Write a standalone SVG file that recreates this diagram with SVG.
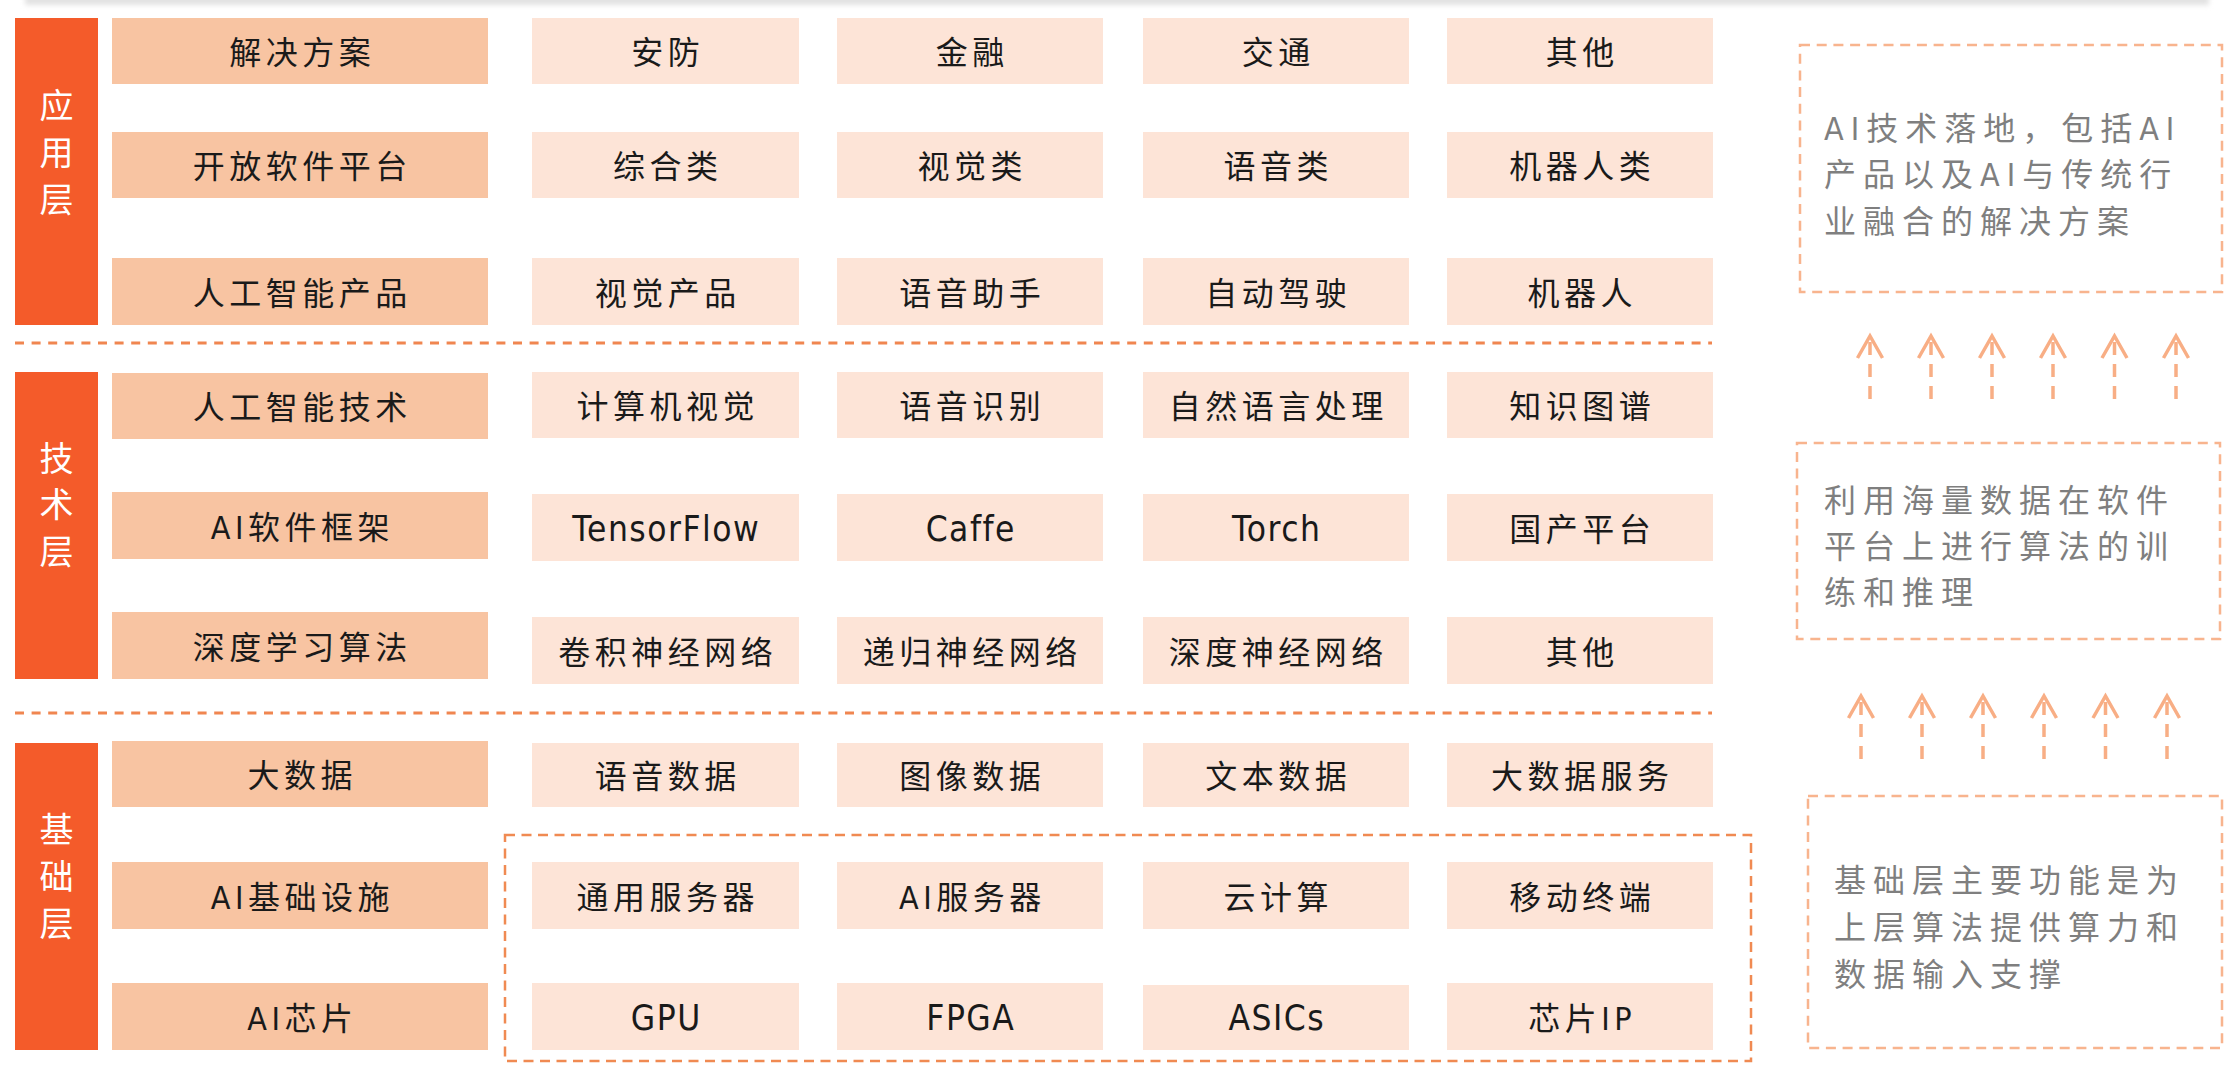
<svg xmlns="http://www.w3.org/2000/svg" width="2240" height="1076" viewBox="0 0 2240 1076">
  <defs>
    <filter id="soft" x="-5%" y="-200%" width="110%" height="500%">
      <feGaussianBlur stdDeviation="2.5"/>
    </filter>
    <style>
      .bar { fill: #F45B2A; }
      .hd { fill: #F8C4A2; }
      .cell { fill: #FDE4D7; }
      .sep { stroke: #F08650; stroke-width: 3; stroke-dasharray: 9 7.6; fill: none; }
      .grp { stroke: #F08A52; stroke-width: 2.5; stroke-dasharray: 10 6.5; fill: none; }
      .note { stroke: #F8B48E; stroke-width: 2.5; stroke-dasharray: 10 6.7; fill: none; }
      .arrow { stroke: #F8AE85; stroke-width: 3.5; fill: none; stroke-linecap: butt; }
      .shaft { stroke: #F8AE85; stroke-width: 3.5; fill: none; stroke-dasharray: 13 9; }
      .lay { font-family: "Noto Sans CJK SC", sans-serif; font-size: 34px; fill: #FFFFFF; text-anchor: middle; }
      .t { font-family: "DejaVu Sans Condensed", "Noto Sans CJK SC", sans-serif; font-size: 32px; fill: #1A1A1A; text-anchor: middle; letter-spacing: 4.5px; }
      .en { font-family: "DejaVu Sans Condensed", "Noto Sans CJK SC", sans-serif; font-size: 35px; fill: #1A1A1A; text-anchor: middle; letter-spacing: 1.5px; }
      .d { font-family: "DejaVu Sans Condensed", "Noto Sans CJK SC", sans-serif; font-size: 32px; fill: #7F7F7F; letter-spacing: 7px; }
    </style>
  </defs>
  <rect width="2240" height="1076" fill="#FFFFFF"/>
  <rect x="25" y="-6" width="2184" height="11" fill="#E2E2E2" filter="url(#soft)"/>

  <!-- separators -->
  <line class="sep" x1="15" y1="343" x2="1712" y2="343"/>
  <line class="sep" x1="15" y1="713" x2="1712" y2="713"/>

  <!-- layer bars -->
  <g id="layer-app">
    <rect class="bar" x="15" y="18" width="83" height="307"/>
    <text class="lay" x="56.5" y="118">应</text>
    <text class="lay" x="56.5" y="165">用</text>
    <text class="lay" x="56.5" y="212">层</text>
  </g>
  <g id="layer-tech">
    <rect class="bar" x="15" y="372" width="83" height="307"/>
    <text class="lay" x="56.5" y="471">技</text>
    <text class="lay" x="56.5" y="517">术</text>
    <text class="lay" x="56.5" y="564">层</text>
  </g>
  <g id="layer-base">
    <rect class="bar" x="15" y="743" width="83" height="307"/>
    <text class="lay" x="56.5" y="842">基</text>
    <text class="lay" x="56.5" y="889">础</text>
    <text class="lay" x="56.5" y="936">层</text>
  </g>

  <!-- application layer -->
  <g id="n-solution"><rect class="hd" x="112" y="18" width="376" height="66"/><text class="t" x="302.3" y="64">解决方案</text></g>
  <g id="n-anfang"><rect class="cell" x="532" y="18" width="267" height="66"/><text class="t" x="667.8" y="64">安防</text></g>
  <g id="n-jinrong"><rect class="cell" x="837" y="18" width="266" height="66"/><text class="t" x="972.3" y="64">金融</text></g>
  <g id="n-jiaotong"><rect class="cell" x="1143" y="18" width="266" height="66"/><text class="t" x="1278.3" y="64">交通</text></g>
  <g id="n-qita1"><rect class="cell" x="1447" y="18" width="266" height="66"/><text class="t" x="1582.3" y="64">其他</text></g>

  <g id="n-platform"><rect class="hd" x="112" y="132" width="376" height="66"/><text class="t" x="302.3" y="178">开放软件平台</text></g>
  <g id="n-zonghe"><rect class="cell" x="532" y="132" width="267" height="66"/><text class="t" x="667.8" y="178">综合类</text></g>
  <g id="n-shijue"><rect class="cell" x="837" y="132" width="266" height="66"/><text class="t" x="972.3" y="178">视觉类</text></g>
  <g id="n-yuyin"><rect class="cell" x="1143" y="132" width="266" height="66"/><text class="t" x="1278.3" y="178">语音类</text></g>
  <g id="n-jiqiren"><rect class="cell" x="1447" y="132" width="266" height="66"/><text class="t" x="1582.3" y="178">机器人类</text></g>

  <g id="n-product"><rect class="hd" x="112" y="258" width="376" height="67"/><text class="t" x="302.3" y="304.5">人工智能产品</text></g>
  <g id="n-sjcp"><rect class="cell" x="532" y="258" width="267" height="67"/><text class="t" x="667.8" y="304.5">视觉产品</text></g>
  <g id="n-yyzs"><rect class="cell" x="837" y="258" width="266" height="67"/><text class="t" x="972.3" y="304.5">语音助手</text></g>
  <g id="n-zdjs"><rect class="cell" x="1143" y="258" width="266" height="67"/><text class="t" x="1278.3" y="304.5">自动驾驶</text></g>
  <g id="n-robot"><rect class="cell" x="1447" y="258" width="266" height="67"/><text class="t" x="1582.3" y="304.5">机器人</text></g>

  <!-- technology layer -->
  <g id="n-aitech"><rect class="hd" x="112" y="373" width="376" height="66"/><text class="t" x="302.3" y="419">人工智能技术</text></g>
  <g id="n-cv"><rect class="cell" x="532" y="372" width="267" height="66"/><text class="t" x="667.8" y="418">计算机视觉</text></g>
  <g id="n-asr"><rect class="cell" x="837" y="372" width="266" height="66"/><text class="t" x="972.3" y="418">语音识别</text></g>
  <g id="n-nlp"><rect class="cell" x="1143" y="372" width="266" height="66"/><text class="t" x="1278.3" y="418">自然语言处理</text></g>
  <g id="n-kg"><rect class="cell" x="1447" y="372" width="266" height="66"/><text class="t" x="1582.3" y="418">知识图谱</text></g>

  <g id="n-framework"><rect class="hd" x="112" y="492" width="376" height="67"/><text class="t" x="302.3" y="538.5">AI软件框架</text></g>
  <g id="n-tf"><rect class="cell" x="532" y="494" width="267" height="67"/><text class="en" x="666.3" y="540.5">TensorFlow</text></g>
  <g id="n-caffe"><rect class="cell" x="837" y="494" width="266" height="67"/><text class="en" x="970.8" y="540.5">Caffe</text></g>
  <g id="n-torch"><rect class="cell" x="1143" y="494" width="266" height="67"/><text class="en" x="1276.8" y="540.5">Torch</text></g>
  <g id="n-guochan"><rect class="cell" x="1447" y="494" width="266" height="67"/><text class="t" x="1582.3" y="540.5">国产平台</text></g>

  <g id="n-dl"><rect class="hd" x="112" y="612" width="376" height="67"/><text class="t" x="302.3" y="658.5">深度学习算法</text></g>
  <g id="n-cnn"><rect class="cell" x="532" y="617" width="267" height="67"/><text class="t" x="667.8" y="663.5">卷积神经网络</text></g>
  <g id="n-rnn"><rect class="cell" x="837" y="617" width="266" height="67"/><text class="t" x="972.3" y="663.5">递归神经网络</text></g>
  <g id="n-dnn"><rect class="cell" x="1143" y="617" width="266" height="67"/><text class="t" x="1278.3" y="663.5">深度神经网络</text></g>
  <g id="n-qita2"><rect class="cell" x="1447" y="617" width="266" height="67"/><text class="t" x="1582.3" y="663.5">其他</text></g>

  <!-- base layer -->
  <g id="n-bigdata"><rect class="hd" x="112" y="741" width="376" height="66"/><text class="t" x="302.3" y="787">大数据</text></g>
  <g id="n-yysj"><rect class="cell" x="532" y="743" width="267" height="64"/><text class="t" x="667.8" y="788">语音数据</text></g>
  <g id="n-txsj"><rect class="cell" x="837" y="743" width="266" height="64"/><text class="t" x="972.3" y="788">图像数据</text></g>
  <g id="n-wbsj"><rect class="cell" x="1143" y="743" width="266" height="64"/><text class="t" x="1278.3" y="788">文本数据</text></g>
  <g id="n-dsjfw"><rect class="cell" x="1447" y="743" width="266" height="64"/><text class="t" x="1582.3" y="788">大数据服务</text></g>

  <g id="n-infra"><rect class="hd" x="112" y="862" width="376" height="67"/><text class="t" x="302.3" y="908.5">AI基础设施</text></g>
  <g id="n-tyfwq"><rect class="cell" x="532" y="862" width="267" height="67"/><text class="t" x="667.8" y="908.5">通用服务器</text></g>
  <g id="n-aifwq"><rect class="cell" x="837" y="862" width="266" height="67"/><text class="t" x="972.3" y="908.5">AI服务器</text></g>
  <g id="n-yjs"><rect class="cell" x="1143" y="862" width="266" height="67"/><text class="t" x="1278.3" y="908.5">云计算</text></g>
  <g id="n-ydzd"><rect class="cell" x="1447" y="862" width="266" height="67"/><text class="t" x="1582.3" y="908.5">移动终端</text></g>

  <g id="n-chip"><rect class="hd" x="112" y="983" width="376" height="67"/><text class="t" x="302.3" y="1029.5">AI芯片</text></g>
  <g id="n-gpu"><rect class="cell" x="532" y="983" width="267" height="67"/><text class="en" x="666.3" y="1029.5">GPU</text></g>
  <g id="n-fpga"><rect class="cell" x="837" y="983" width="266" height="67"/><text class="en" x="970.8" y="1029.5">FPGA</text></g>
  <g id="n-asic"><rect class="cell" x="1143" y="985" width="266" height="65"/><text class="en" x="1276.8" y="1029.5">ASICs</text></g>
  <g id="n-chipip"><rect class="cell" x="1447" y="983" width="266" height="67"/><text class="t" x="1582.3" y="1029.5">芯片IP</text></g>

  <g id="g-hardware"><rect class="grp" x="505" y="835" width="1246" height="226"/></g>

  <!-- notes -->
  <g id="note-app">
    <rect class="note" x="1800" y="45" width="422" height="247"/>
    <text class="d" x="1824" y="140">AI技术落地，包括AI</text>
    <text class="d" x="1824" y="186">产品以及AI与传统行</text>
    <text class="d" x="1824" y="233">业融合的解决方案</text>
  </g>
  <g id="note-tech">
    <rect class="note" x="1797" y="443" width="423" height="196"/>
    <text class="d" x="1824" y="512">利用海量数据在软件</text>
    <text class="d" x="1824" y="558">平台上进行算法的训</text>
    <text class="d" x="1824" y="604">练和推理</text>
  </g>
  <g id="note-base">
    <rect class="note" x="1808" y="796" width="414" height="252"/>
    <text class="d" x="1834" y="892">基础层主要功能是为</text>
    <text class="d" x="1834" y="939">上层算法提供算力和</text>
    <text class="d" x="1834" y="986">数据输入支撑</text>
  </g>

  <!-- connectors -->
  <g id="connectors">
    <g>
      <path class="arrow" d="M1857.5 358 L1870 336 L1882.5 358"/><line class="shaft" x1="1870" y1="399" x2="1870" y2="340"/>
      <path class="arrow" d="M1918.5 358 L1931 336 L1943.5 358"/><line class="shaft" x1="1931" y1="399" x2="1931" y2="340"/>
      <path class="arrow" d="M1979.5 358 L1992 336 L2004.5 358"/><line class="shaft" x1="1992" y1="399" x2="1992" y2="340"/>
      <path class="arrow" d="M2040.5 358 L2053 336 L2065.5 358"/><line class="shaft" x1="2053" y1="399" x2="2053" y2="340"/>
      <path class="arrow" d="M2102 358 L2114.5 336 L2127 358"/><line class="shaft" x1="2114.5" y1="399" x2="2114.5" y2="340"/>
      <path class="arrow" d="M2163.5 358 L2176 336 L2188.5 358"/><line class="shaft" x1="2176" y1="399" x2="2176" y2="340"/>
    </g>
    <g>
      <path class="arrow" d="M1848.5 718 L1861 696 L1873.5 718"/><line class="shaft" x1="1861" y1="759" x2="1861" y2="700"/>
      <path class="arrow" d="M1909.5 718 L1922 696 L1934.5 718"/><line class="shaft" x1="1922" y1="759" x2="1922" y2="700"/>
      <path class="arrow" d="M1970.5 718 L1983 696 L1995.5 718"/><line class="shaft" x1="1983" y1="759" x2="1983" y2="700"/>
      <path class="arrow" d="M2031.5 718 L2044 696 L2056.5 718"/><line class="shaft" x1="2044" y1="759" x2="2044" y2="700"/>
      <path class="arrow" d="M2093 718 L2105.5 696 L2118 718"/><line class="shaft" x1="2105.5" y1="759" x2="2105.5" y2="700"/>
      <path class="arrow" d="M2154.5 718 L2167 696 L2179.5 718"/><line class="shaft" x1="2167" y1="759" x2="2167" y2="700"/>
    </g>
  </g>
</svg>
